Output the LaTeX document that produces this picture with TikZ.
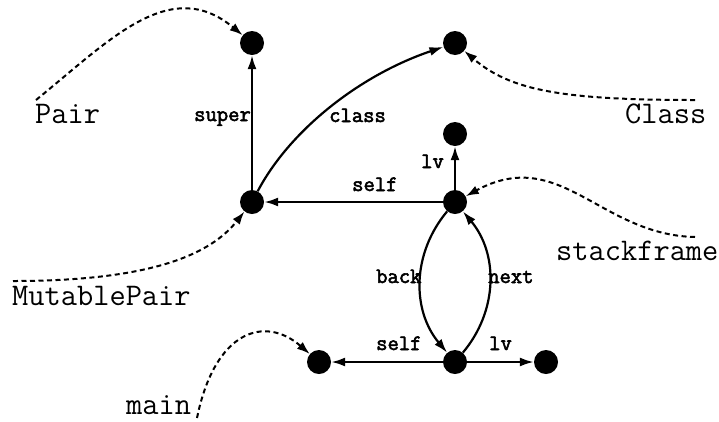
\documentclass[tikz,border=0pt]{standalone}
\usepackage{fontspec}
\newfontfamily\lblfont[FakeBold=2.5]{Latin Modern Mono}
\usetikzlibrary{arrows.meta}
\begin{document}
\begin{tikzpicture}[x=1pt,y=-1pt,
 dot/.style={circle,fill=black,inner sep=0pt,minimum size=24pt},
 edge/.style={line width=2.2pt,-{Latex[length=14pt,width=9pt]}},
 ptr/.style={line width=2pt,dash pattern=on 5pt off 3.5pt,-{Latex[length=13pt,width=9pt]}},
 lbl/.style={font=\fontsize{22}{24}\selectfont\lblfont,inner sep=0pt,anchor=base west},
 tname/.style={font=\fontsize{31.5}{33}\selectfont\ttfamily,inner sep=0pt,anchor=base west}]
\useasboundingbox (0,0) rectangle (719,421);
% nodes
\node[dot] (P) at (252,43) {};
\node[dot] (C) at (455,43) {};
\node[dot] (M) at (252,202) {};
\node[dot] (L1) at (455,134) {};
\node[dot] (S) at (455,202) {};
\node[dot] (B) at (455,362) {};
\node[dot] (mn) at (319,362) {};
\node[dot] (L2) at (546,362) {};
% solid edges
\draw[edge] (M) -- (P);
\draw[edge] (M) .. controls (290,130) and (360,75) .. (C);
\draw[edge] (S) -- (M);
\draw[edge] (S) -- (L1);
\draw[edge] (S) to[bend right=40] (B);
\draw[edge] (B) to[bend right=40] (S);
\draw[edge] (B) -- (mn);
\draw[edge] (B) -- (L2);
% edge labels
\node[lbl] (tsuper) at (194,121) {super};
\node[lbl] (tclass) at (329,122) {class};
\node[lbl] (tself1) at (352,191) {self};
\node[lbl] (tlv1) at (421,168) {lv};
\node[lbl] (tback) at (376,283) {back};
\node[lbl] (tnext) at (488,283) {next};
\node[lbl] (tself2) at (376,350) {self};
\node[lbl] (tlv2) at (489,350) {lv};
% names
\node[tname] (nPair) at (35,123) {Pair};
\node[tname] (nClass) at (625,123) {Class};
\node[tname] (nStack) at (556,260) {stackframe};
\node[tname] (nMP) at (12,305) {MutablePair};
\node[tname,text depth=0pt] (nMain) at (126,414) {main};
% dashed pointers
\coordinate (sPair) at (36,100);
\coordinate (sClass) at (695,100);
\coordinate (sStack) at (695,237);
\coordinate (sMP) at (13,281);
\coordinate (sMain) at (197,418);
\draw[ptr] (sPair) .. controls (110,40) and (170,-25) .. (P);
\draw[ptr] (sClass) .. controls (560,100) and (510,90) .. (C);
\draw[ptr] (sStack) .. controls (600,235) and (560,145) .. (S);
\draw[ptr] (sMP) .. controls (150,281) and (210,255) .. (M);
\draw[ptr] (sMain) .. controls (215,330) and (265,315) .. (mn);
\end{tikzpicture}
\end{document}
